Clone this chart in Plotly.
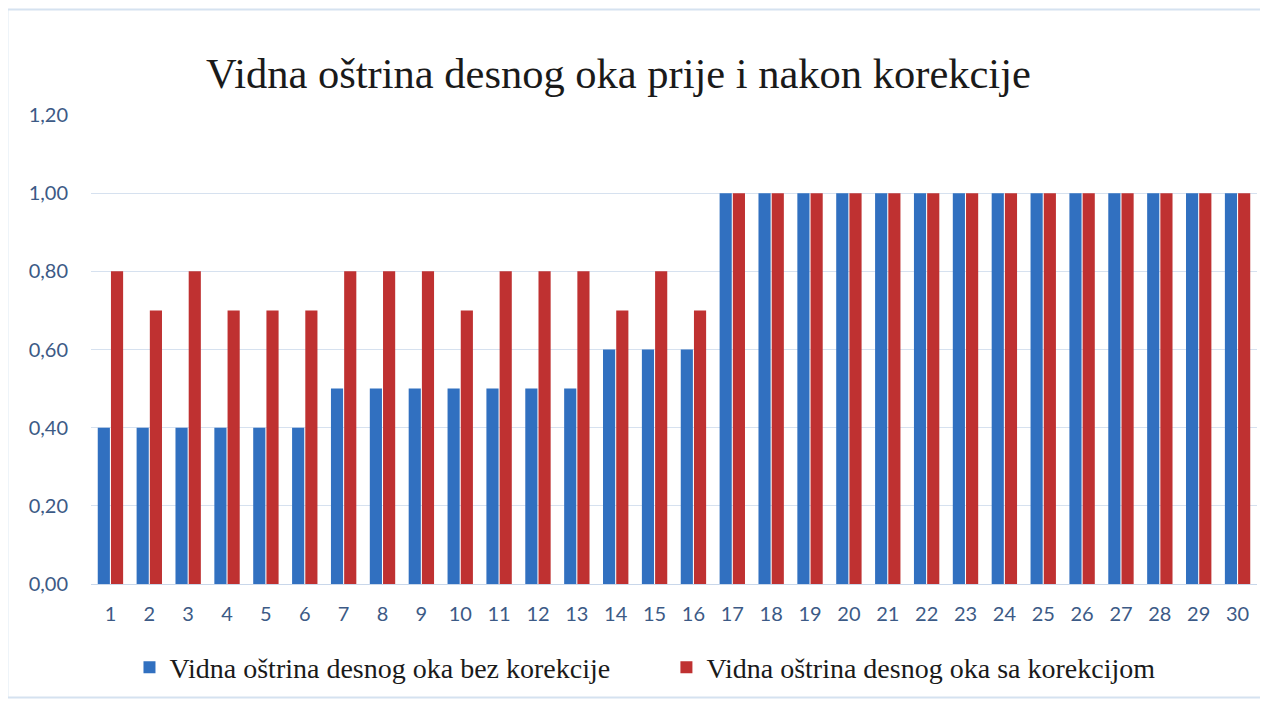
import plotly.graph_objects as go

categories = [str(i) for i in range(1, 31)]
bez_korekcije = [0.4, 0.4, 0.4, 0.4, 0.4, 0.4,
                 0.5, 0.5, 0.5, 0.5, 0.5, 0.5, 0.5,
                 0.6, 0.6, 0.6,
                 1.0, 1.0, 1.0, 1.0, 1.0, 1.0, 1.0, 1.0, 1.0, 1.0, 1.0, 1.0, 1.0, 1.0]
sa_korekcijom = [0.8, 0.7, 0.8, 0.7, 0.7, 0.7, 0.8, 0.8, 0.8, 0.7, 0.8, 0.8, 0.8, 0.7, 0.8, 0.7,
                 1.0, 1.0, 1.0, 1.0, 1.0, 1.0, 1.0, 1.0, 1.0, 1.0, 1.0, 1.0, 1.0, 1.0]
series_names = ["Vidna oštrina desnog oka bez korekcije", "Vidna oštrina desnog oka sa korekcijom"]
y_ticks = [0, 0.2, 0.4, 0.6, 0.8, 1.0, 1.2]
y_tick_labels = ["0,00", "0,20", "0,40", "0,60", "0,80", "1,00", "1,20"]

fig = go.Figure()
fig.add_trace(go.Bar(x=categories, y=bez_korekcije, name=series_names[0], legend="legend",
                     marker=dict(color="#3170C0", line=dict(width=0))))
fig.add_trace(go.Bar(x=categories, y=sa_korekcijom, name=series_names[1], legend="legend2",
                     marker=dict(color="#BF3131", line=dict(width=0))))

legend_font = dict(family="Liberation Serif", size=28, color="#1a1a1a")
fig.update_layout(
    width=1260, height=695,
    paper_bgcolor="white", plot_bgcolor="white",
    margin=dict(l=83, r=11, t=107, b=113),
    barmode="group", bargap=0.32, bargroupgap=0.08,
    title=dict(text="Vidna oštrina desnog oka prije i nakon korekcije",
               font=dict(family="Liberation Serif", size=42.5, color="#1a1a1a"),
               x=0.4845, xanchor="center", y=0.906, yanchor="middle"),
    showlegend=True,
    legend=dict(orientation="h", x=0.033, xanchor="left", y=-0.178, yanchor="middle",
                font=legend_font, itemwidth=30),
    legend2=dict(orientation="h", x=0.4935, xanchor="left", y=-0.178, yanchor="middle",
                 font=legend_font, itemwidth=30),
    xaxis=dict(showgrid=False, showline=True, linecolor="#C9D7EA", linewidth=1,
               ticks="", ticklabelstandoff=12,
               tickfont=dict(family="Lato", size=20, color="#3C5A86")),
    yaxis=dict(range=[0, 1.2], tickvals=y_ticks, ticktext=y_tick_labels,
               showgrid=True, gridcolor="#D6E1EF", gridwidth=1, zeroline=False,
               showline=False, ticks="", ticklabelstandoff=22,
               tickfont=dict(family="Lato", size=20, color="#3C5A86")),
    shapes=[dict(type="rect", xref="paper", yref="paper", x0=-0.0717, x1=1.0112, y0=-0.242, y1=1.2248,
                 line=dict(color="#D5E2F0", width=2), fillcolor="rgba(0,0,0,0)", layer="below")],
)

fig.write_html("out.html")
